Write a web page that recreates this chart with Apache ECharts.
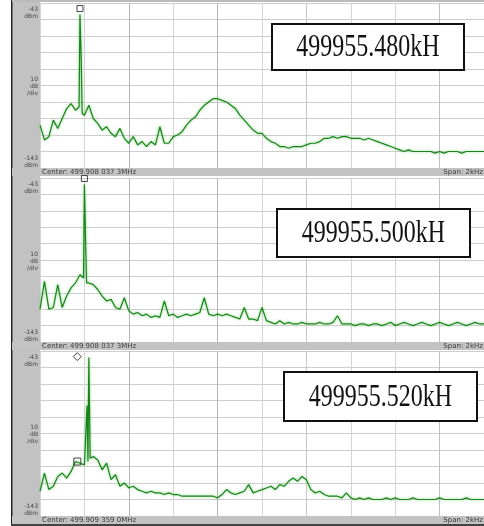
<!DOCTYPE html>
<html>
<head>
<meta charset="utf-8">
<script src="https://cdn.jsdelivr.net/npm/echarts@6/dist/echarts.min.js"></script>
<style>
  html, body { margin: 0; padding: 0; background: #fff; }
  #chart { width: 484px; height: 526px; }
</style>
</head>
<body>
<div id="chart"></div>
<script>
// trace bins (0..100 across the 10 horizontal divisions)
var bins = Array.from({length: 101}, function (_, i) { return i; });

// level, dBm (ref -43 dBm, 10 dB/div)
var refLevel = -43;
var bottomLevel = -143;

var trace480 = [
  -117, -126, -124, -114, -119, -113, -107, -104, -108, -50,
  -111, -105, -113, -116, -120, -118, -122, -124, -119, -125,
  -128, -124, -129, -127, -130, -127, -129, -118, -128, -128,
  -124, -123, -121, -117, -114, -112, -108, -105, -103, -101,
  -101, -102, -103, -105, -107, -111, -114, -117, -120, -122,
  -122, -125, -127, -128, -130, -130, -131, -130, -130, -130,
  -129, -128, -128, -127, -125, -125, -124, -125, -124, -124,
  -125, -125, -125, -126, -125, -126, -127, -128, -129, -130,
  -131, -132, -133, -132, -133, -133, -133, -133, -133, -134,
  -133, -134, -133, -133, -133, -134, -133, -133, -133, -133,
  -133
];

var trace500 = [
  -123, -106, -123, -122, -108, -122, -115, -110, -107, -102,
  -47, -107, -108, -111, -115, -118, -117, -122, -123, -116,
  -124, -126, -125, -127, -126, -128, -127, -128, -118, -127,
  -126, -128, -127, -126, -127, -126, -125, -116, -126, -127,
  -126, -127, -126, -127, -128, -129, -122, -129, -129, -130,
  -122, -130, -131, -132, -130, -132, -131, -132, -132, -131,
  -132, -132, -132, -131, -132, -132, -131, -127, -132, -132,
  -132, -133, -132, -132, -133, -132, -132, -133, -132, -131,
  -133, -132, -131, -132, -133, -132, -131, -132, -133, -132,
  -131, -132, -133, -132, -131, -132, -133, -132, -131, -132,
  -132
];

var trace520 = [
  -128, -117, -127, -125, -119, -117, -120, -116, -110, -111,
  -112, -47, -107, -109, -115, -111, -121, -118, -125, -123,
  -126, -125, -127, -128, -129, -128, -129, -129, -130, -129,
  -130, -130, -131, -131, -131, -131, -131, -131, -131, -131,
  -132, -130, -127, -129, -130, -129, -128, -124, -129, -128,
  -127, -126, -125, -127, -124, -125, -122, -120, -122, -119,
  -121, -127, -129, -128, -130, -131, -131, -131, -132, -129,
  -132, -133, -132, -133, -132, -133, -133, -133, -132, -133,
  -132, -133, -133, -133, -132, -133, -133, -133, -133, -133,
  -132, -133, -133, -133, -133, -133, -132, -133, -133, -133,
  -133
];

// finer readings around each carrier spike: [bin, dBm]
var carrier480 = [[8.8, -106], [9.3, -79], [9.5, -110]];
var carrier500 = [[9.8, -104], [10.3, -86], [10.5, -107]];
var carrier520 = [[10.6, -76], [10.8, -110], [11.3, -108]];

var boxLabels = ['499955.480kH', '499955.500kH', '499955.520kH'];
var centerLabels = ['Center: 499.908 037 3MHz', 'Center: 499.908 037 3MHz', 'Center: 499.909 359 0MHz'];

// panel geometry on the page
var panels = [
  {top: 3, height: 165, box: [272, 24, 192, 46]},
  {top: 178, height: 164, box: [277, 209, 193, 48]},
  {top: 351, height: 165, box: [284, 372, 193, 49]}
];

var vLineColors = ['#d4d4d4', '#d4d4d4', '#b4b4b4', '#d4d4d4', '#b4b4b4', '#d4d4d4',
                   '#c8c8c8', '#d4d4d4', '#d4d4d4', '#c0c0c0', '#d4d4d4'];

var traces = [trace480, trace500, trace520];
var carriers = [carrier480, carrier500, carrier520];

var grids = [], xAxes = [], yAxes = [], series = [];
var graphics = [
  {type: 'rect', shape: {x: 12, y: 0, width: 28, height: 526}, style: {fill: '#c2c2c2'}, z: 1},
  {type: 'rect', shape: {x: 11, y: 0, width: 1.5, height: 526}, style: {fill: '#222'}, z: 2},
  {type: 'rect', shape: {x: 12, y: 0, width: 472, height: 2}, style: {fill: '#bbb'}, z: 2},
  {type: 'rect', shape: {x: 11, y: 524, width: 473, height: 2}, style: {fill: '#444'}, z: 2}
];

panels.forEach(function (p, k) {
  grids.push({left: 40, top: p.top, width: 444, height: p.height});
  xAxes.push({
    type: 'value', gridIndex: k, min: 0, max: 100, interval: 10,
    axisLine: {show: false}, axisTick: {show: false}, axisLabel: {show: false},
    splitLine: {show: true, lineStyle: {color: vLineColors, width: 1}}
  });
  yAxes.push({
    type: 'value', gridIndex: k, min: bottomLevel, max: refLevel, interval: 10,
    axisLine: {show: false}, axisTick: {show: false}, axisLabel: {show: false},
    splitLine: {show: true, lineStyle: {color: '#cdcdcd', width: 1}}
  });

  var pts = traces[k].map(function (v, i) { return [bins[i], v]; })
    .concat(carriers[k])
    .sort(function (a, b) { return a[0] - b[0]; });

  var s = {
    type: 'line',
    xAxisIndex: k,
    yAxisIndex: k,
    data: pts,
    showSymbol: false,
    animation: false,
    lineStyle: {color: '#1a821a', width: 1.2, shadowColor: 'rgba(90,200,90,0.8)', shadowBlur: 3}
  };
  if (k < 2) {
    s.markPoint = {
      symbol: 'rect', symbolSize: 6, symbolOffset: [0, -6],
      itemStyle: {color: 'rgba(255,255,255,0)', borderColor: '#444', borderWidth: 1},
      label: {show: false},
      data: [{type: 'max'}]
    };
  } else {
    s.markPoint = {
      itemStyle: {color: 'rgba(255,255,255,0)', borderColor: '#444', borderWidth: 1},
      label: {show: false},
      data: [
        {coord: [bins[8] + 0.4, trace520[11]], symbol: 'diamond', symbolSize: 8, symbolOffset: [0, -1]},
        {coord: [bins[8] + 0.4, trace520[8]], symbol: 'rect', symbolSize: 7}
      ]
    };
  }
  series.push(s);

  // bottom status bar
  var barY = p.top + p.height;
  graphics.push({type: 'rect', shape: {x: 12, y: barY, width: 472, height: 8}, style: {fill: '#c3c3c3'}, z: 3});
  graphics.push({type: 'text', x: 42, y: barY + 1, z: 4,
    style: {text: centerLabels[k], font: '7px "DejaVu Sans"', fill: '#3a3a3a'}});
  graphics.push({type: 'text', x: 483, y: barY + 1, z: 4,
    style: {text: 'Span: 2kHz', font: '7px "DejaVu Sans"', fill: '#3a3a3a', align: 'right'}});

  // scale labels in the left panel
  graphics.push({type: 'text', x: 38, y: p.top + 3, z: 4,
    style: {text: '-43\ndBm', font: '6px "DejaVu Sans"', lineHeight: 7, fill: '#444', align: 'right'}});
  graphics.push({type: 'text', x: 38, y: p.top + 73, z: 4,
    style: {text: '10\ndB\n/div', font: '6px "DejaVu Sans"', lineHeight: 7, fill: '#444', align: 'right'}});
  graphics.push({type: 'text', x: 38, y: p.top + p.height - 13, z: 4,
    style: {text: '-143\ndBm', font: '6px "DejaVu Sans"', lineHeight: 7, fill: '#444', align: 'right'}});

  // frequency box
  var b = p.box;
  graphics.push({type: 'rect', shape: {x: b[0], y: b[1], width: b[2], height: b[3]},
    style: {fill: '#fff', stroke: '#111', lineWidth: 2}, z: 50});
  graphics.push({type: 'text', x: b[0] + b[2] / 2, y: b[1] + b[3] / 2 + 1, scaleX: 0.75, z: 51,
    style: {text: boxLabels[k], font: '32px "Liberation Serif"', fill: '#111',
      align: 'center', verticalAlign: 'middle'}});
});

var chart = echarts.init(document.getElementById('chart'));
chart.setOption({
  backgroundColor: '#fff',
  animation: false,
  grid: grids,
  xAxis: xAxes,
  yAxis: yAxes,
  series: series,
  graphic: graphics
});
</script>
</body>
</html>
